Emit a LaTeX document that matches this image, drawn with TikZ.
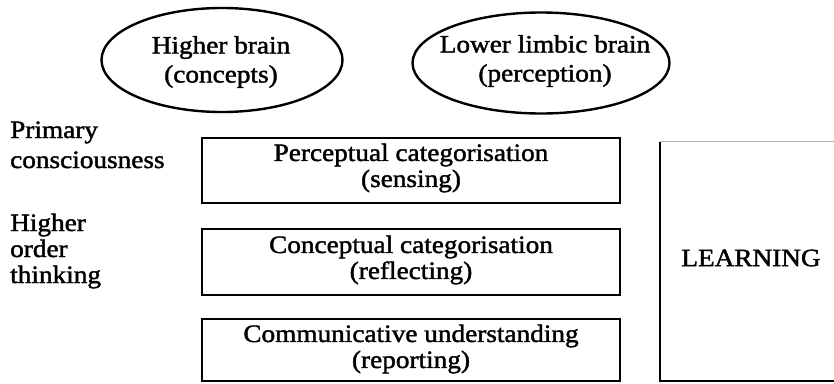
\documentclass[tikz,border=0pt]{standalone}
\usepackage{fontspec}
\setmainfont[FakeStretch=1.09]{Liberation Serif}
\newfontfamily\semib[FakeStretch=1.09,FakeBold=1.6]{Liberation Serif}
\usetikzlibrary{shapes.geometric}
\begin{document}
\begin{tikzpicture}[x=1pt,y=-1pt,
  txt/.style={font=\semib\fontsize{25}{29}\selectfont, inner sep=0pt, align=center},
  boxtxt/.style={font=\semib\fontsize{25}{26}\selectfont, inner sep=0pt, align=center},
  lbl/.style={font=\semib\fontsize{25}{28}\selectfont, inner sep=0pt, align=left, anchor=base west},
  oval/.style={draw, ellipse, line width=2.4pt, inner sep=0pt},
  stepbox/.style={draw, rectangle, line width=2.6pt, inner sep=0pt, minimum width=418pt},
  edge/.style={line width=2.4pt}
]
\useasboundingbox (0,0) rectangle (834,383);
% ellipses
\node[oval, minimum width=241pt, minimum height=104pt] (e1) at (222,60) {};
\node[txt] (e1t) at (221,62) {Higher brain\\(concepts)};
\node[oval, minimum width=257pt, minimum height=101pt] (e2) at (541,63) {};
\node[txt] (e2t) at (545,61) {Lower limbic brain\\(perception)};
% left labels
\node[lbl] (p1) at (10,138) {Primary};
\node[lbl] (p2) at (10,168) {consciousness};
\node[lbl] (h1) at (10,231) {Higher};
\node[lbl] (h2) at (10,257) {order};
\node[lbl] (h3) at (10,283) {thinking};
% boxes
\node[stepbox, minimum height=65pt] (b1) at (411,170.5) {};
\node[boxtxt] (b1t) at (411,168) {Perceptual categorisation\\(sensing)};
\node[stepbox, minimum height=66pt] (b2) at (411,262) {};
\node[boxtxt] (b2t) at (411,260) {Conceptual categorisation\\(reflecting)};
\node[stepbox, minimum height=62pt] (b3) at (411,350) {};
\node[boxtxt] (b3t) at (411,349) {Communicative understanding\\(reporting)};
% learning
\node[rectangle, minimum width=180pt, minimum height=239pt, inner sep=0pt] (lr) at (750,261.5) {};
\draw[edge, gray!60, line width=1.2pt] (lr.north west) -- (lr.north east);
\draw[edge] (lr.north west) -- (lr.south west) -- (lr.south east);
\node[boxtxt] (lrt) at (751,258) {LEARNING};
\end{tikzpicture}
\end{document}
